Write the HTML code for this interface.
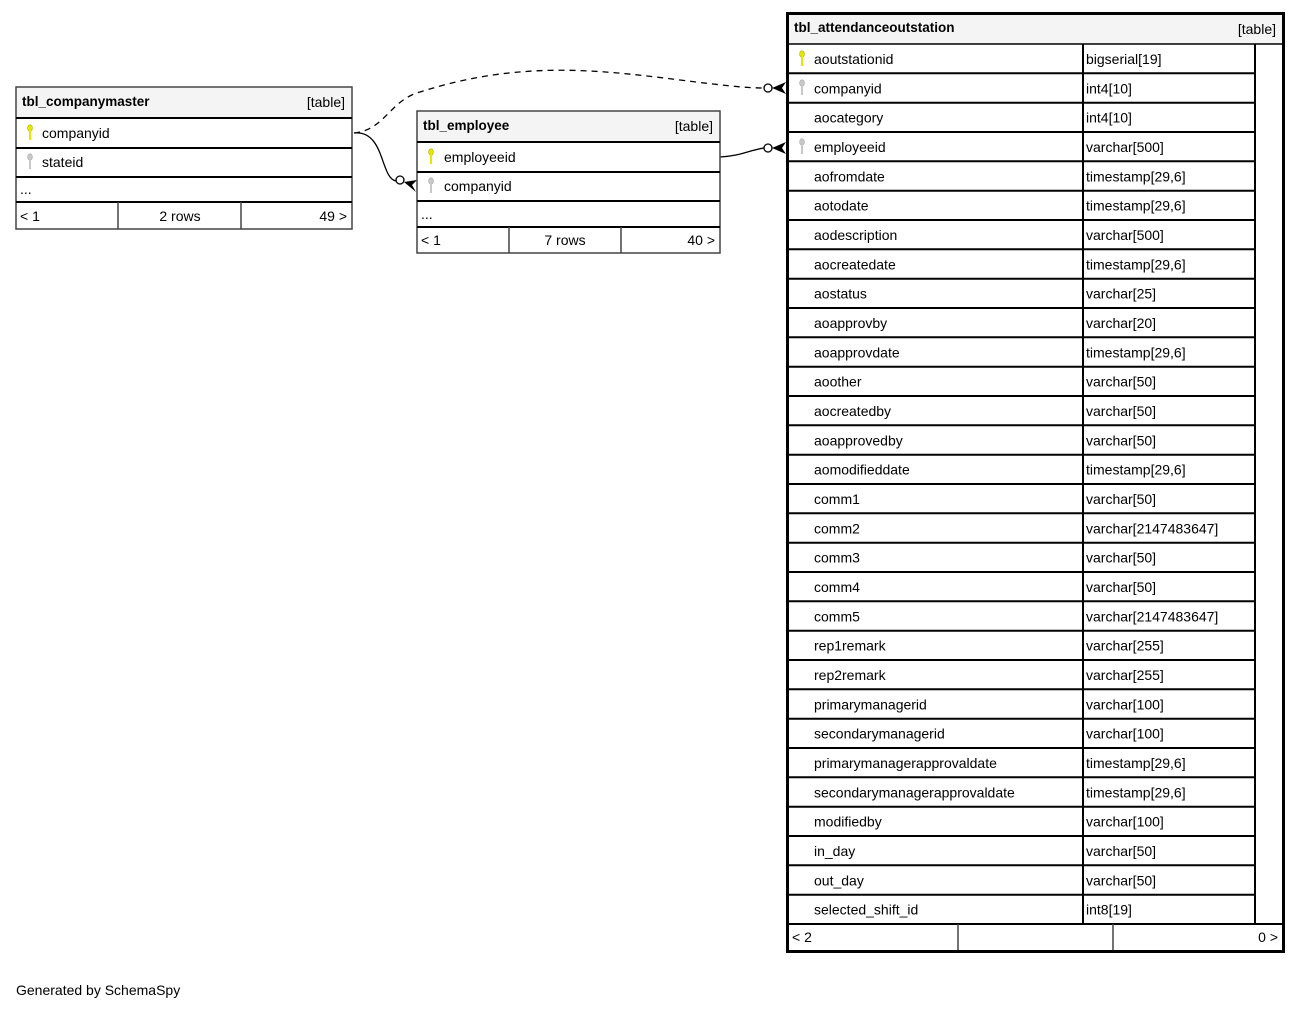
<!DOCTYPE html>
<html><head><meta charset="utf-8"><style>
html,body{margin:0;padding:0;background:#fff;width:1302px;height:1010px;overflow:hidden}
svg{display:block}
text{font-family:"Liberation Sans",Arial,sans-serif;font-size:14px;fill:#000}
.b{font-weight:bold;font-size:13.5px}
</style></head><body>
<svg width="1302" height="1010" viewBox="0 0 1302 1010" xmlns="http://www.w3.org/2000/svg">
<defs>
<g id="kp"><ellipse cx="0" cy="-4" rx="2.4" ry="3.2" fill="#e6e600" stroke="#b0b000" stroke-width="0.6"/><rect x="-1" y="-2" width="2" height="10" fill="#e6e600"/></g>
<g id="kf"><ellipse cx="0" cy="-4" rx="2.4" ry="3.2" fill="#c8c8c8" stroke="#a8a8a8" stroke-width="0.6"/><rect x="-1" y="-2" width="2" height="10" fill="#c8c8c8"/></g>
</defs>

<!-- connectors -->
<path d="M354,133 C385,130 390,100 420,92 C520,60 600,70 680,80 C720,85 745,88 764,88" fill="none" stroke="#000" stroke-width="1.3" stroke-dasharray="6,5"/>
<circle cx="768" cy="88" r="4" fill="#fff" stroke="#000" stroke-width="1.3"/>
<path d="M772,88 L786,82 L782,88 L786,94 Z" fill="#000"/>
<path d="M354,133 C385,130 380,178 396,181" fill="none" stroke="#000" stroke-width="1.3"/>
<circle cx="400" cy="180" r="4" fill="#fff" stroke="#000" stroke-width="1.3"/>
<path d="M404,182 L417,180 L412,185 L416,192 Z" fill="#000"/>
<path d="M720,157 C740,156 750,150 764,148" fill="none" stroke="#000" stroke-width="1.3"/>
<circle cx="768" cy="148" r="4" fill="#fff" stroke="#000" stroke-width="1.3"/>
<path d="M772,148 L786,142 L782,148 L786,154 Z" fill="#000"/>

<!-- tbl_companymaster -->
<rect x="16" y="87" width="336" height="142" fill="#fff" stroke="#444" stroke-width="1.5"/>
<rect x="17" y="88" width="334" height="30" fill="#f4f4f4"/>
<g stroke="#000" stroke-width="2">
<line x1="16" y1="118" x2="352" y2="118"/><line x1="16" y1="148" x2="352" y2="148"/>
<line x1="16" y1="177" x2="352" y2="177"/><line x1="16" y1="202" x2="352" y2="202"/>
</g>
<g stroke="#444" stroke-width="1.5"><line x1="118" y1="202" x2="118" y2="229"/><line x1="241" y1="202" x2="241" y2="229"/></g>
<text x="22" y="106" class="b">tbl_companymaster</text>
<text x="345" y="107" text-anchor="end">[table]</text>
<use href="#kp" x="30" y="132"/><text x="42" y="138">companyid</text>
<use href="#kf" x="30" y="161"/><text x="42" y="167">stateid</text>
<text x="20" y="194">...</text>
<text x="20" y="221">&lt; 1</text><text x="180" y="221" text-anchor="middle">2 rows</text><text x="347" y="221" text-anchor="end">49 &gt;</text>

<!-- tbl_employee -->
<rect x="417" y="111" width="303" height="142" fill="#fff" stroke="#444" stroke-width="1.5"/>
<rect x="418" y="112" width="301" height="30" fill="#f4f4f4"/>
<g stroke="#000" stroke-width="2">
<line x1="417" y1="142" x2="720" y2="142"/><line x1="417" y1="172" x2="720" y2="172"/>
<line x1="417" y1="201" x2="720" y2="201"/><line x1="417" y1="227" x2="720" y2="227"/>
</g>
<g stroke="#444" stroke-width="1.5"><line x1="509" y1="227" x2="509" y2="253"/><line x1="621" y1="227" x2="621" y2="253"/></g>
<text x="423" y="130" class="b">tbl_employee</text>
<text x="713" y="131" text-anchor="end">[table]</text>
<use href="#kp" x="431" y="156"/><text x="444" y="162">employeeid</text>
<use href="#kf" x="431" y="185"/><text x="444" y="191">companyid</text>
<text x="421" y="219">...</text>
<text x="421" y="245">&lt; 1</text><text x="565" y="245" text-anchor="middle">7 rows</text><text x="715" y="245" text-anchor="end">40 &gt;</text>

<!-- tbl_attendanceoutstation -->
<rect x="787.5" y="13.5" width="496" height="938" fill="#fff" stroke="#000" stroke-width="3"/>
<rect x="789" y="15" width="493" height="29" fill="#f4f4f4"/>
<line x1="786" y1="44" x2="1285" y2="44" stroke="#000" stroke-width="1.5"/>
<g stroke="#000" stroke-width="2">
<line x1="1083" y1="44" x2="1083" y2="924"/><line x1="1255" y1="44" x2="1255" y2="924"/>
<line x1="788" y1="73.3" x2="1255" y2="73.3"/><line x1="788" y1="102.7" x2="1255" y2="102.7"/>
<line x1="788" y1="132" x2="1255" y2="132"/><line x1="788" y1="161.3" x2="1255" y2="161.3"/>
<line x1="788" y1="190.7" x2="1255" y2="190.7"/><line x1="788" y1="220" x2="1255" y2="220"/>
<line x1="788" y1="249.3" x2="1255" y2="249.3"/><line x1="788" y1="278.7" x2="1255" y2="278.7"/>
<line x1="788" y1="308" x2="1255" y2="308"/><line x1="788" y1="337.3" x2="1255" y2="337.3"/>
<line x1="788" y1="366.7" x2="1255" y2="366.7"/><line x1="788" y1="396" x2="1255" y2="396"/>
<line x1="788" y1="425.3" x2="1255" y2="425.3"/><line x1="788" y1="454.7" x2="1255" y2="454.7"/>
<line x1="788" y1="484" x2="1255" y2="484"/><line x1="788" y1="513.3" x2="1255" y2="513.3"/>
<line x1="788" y1="542.7" x2="1255" y2="542.7"/><line x1="788" y1="572" x2="1255" y2="572"/>
<line x1="788" y1="601.3" x2="1255" y2="601.3"/><line x1="788" y1="630.7" x2="1255" y2="630.7"/>
<line x1="788" y1="660" x2="1255" y2="660"/><line x1="788" y1="689.3" x2="1255" y2="689.3"/>
<line x1="788" y1="718.7" x2="1255" y2="718.7"/><line x1="788" y1="748" x2="1255" y2="748"/>
<line x1="788" y1="777.3" x2="1255" y2="777.3"/><line x1="788" y1="806.7" x2="1255" y2="806.7"/>
<line x1="788" y1="836" x2="1255" y2="836"/><line x1="788" y1="865.3" x2="1255" y2="865.3"/>
<line x1="788" y1="894.7" x2="1255" y2="894.7"/>
<line x1="788" y1="924" x2="1283" y2="924"/>
</g>
<g stroke="#444" stroke-width="1.5"><line x1="958" y1="924" x2="958" y2="950"/><line x1="1113" y1="924" x2="1113" y2="950"/></g>
<text x="794" y="32" class="b">tbl_attendanceoutstation</text>
<text x="1276" y="34" text-anchor="end">[table]</text>
<use href="#kp" x="802" y="58"/>
<use href="#kf" x="802" y="87"/>
<use href="#kf" x="802" y="146"/>
<g>
<text x="814" y="64">aoutstationid</text><text x="1086" y="64">bigserial[19]</text>
<text x="814" y="93.3">companyid</text><text x="1086" y="93.3">int4[10]</text>
<text x="814" y="122.7">aocategory</text><text x="1086" y="122.7">int4[10]</text>
<text x="814" y="152">employeeid</text><text x="1086" y="152">varchar[500]</text>
<text x="814" y="181.3">aofromdate</text><text x="1086" y="181.3">timestamp[29,6]</text>
<text x="814" y="210.7">aotodate</text><text x="1086" y="210.7">timestamp[29,6]</text>
<text x="814" y="240">aodescription</text><text x="1086" y="240">varchar[500]</text>
<text x="814" y="269.3">aocreatedate</text><text x="1086" y="269.3">timestamp[29,6]</text>
<text x="814" y="298.7">aostatus</text><text x="1086" y="298.7">varchar[25]</text>
<text x="814" y="328">aoapprovby</text><text x="1086" y="328">varchar[20]</text>
<text x="814" y="357.3">aoapprovdate</text><text x="1086" y="357.3">timestamp[29,6]</text>
<text x="814" y="386.7">aoother</text><text x="1086" y="386.7">varchar[50]</text>
<text x="814" y="416">aocreatedby</text><text x="1086" y="416">varchar[50]</text>
<text x="814" y="445.3">aoapprovedby</text><text x="1086" y="445.3">varchar[50]</text>
<text x="814" y="474.7">aomodifieddate</text><text x="1086" y="474.7">timestamp[29,6]</text>
<text x="814" y="504">comm1</text><text x="1086" y="504">varchar[50]</text>
<text x="814" y="533.3">comm2</text><text x="1086" y="533.3">varchar[2147483647]</text>
<text x="814" y="562.7">comm3</text><text x="1086" y="562.7">varchar[50]</text>
<text x="814" y="592">comm4</text><text x="1086" y="592">varchar[50]</text>
<text x="814" y="621.3">comm5</text><text x="1086" y="621.3">varchar[2147483647]</text>
<text x="814" y="650.7">rep1remark</text><text x="1086" y="650.7">varchar[255]</text>
<text x="814" y="680">rep2remark</text><text x="1086" y="680">varchar[255]</text>
<text x="814" y="709.3">primarymanagerid</text><text x="1086" y="709.3">varchar[100]</text>
<text x="814" y="738.7">secondarymanagerid</text><text x="1086" y="738.7">varchar[100]</text>
<text x="814" y="768">primarymanagerapprovaldate</text><text x="1086" y="768">timestamp[29,6]</text>
<text x="814" y="797.3">secondarymanagerapprovaldate</text><text x="1086" y="797.3">timestamp[29,6]</text>
<text x="814" y="826.7">modifiedby</text><text x="1086" y="826.7">varchar[100]</text>
<text x="814" y="856">in_day</text><text x="1086" y="856">varchar[50]</text>
<text x="814" y="885.3">out_day</text><text x="1086" y="885.3">varchar[50]</text>
<text x="814" y="914.7">selected_shift_id</text><text x="1086" y="914.7">int8[19]</text>
</g>
<text x="792" y="942">&lt; 2</text><text x="1278" y="942" text-anchor="end">0 &gt;</text>

<text x="16" y="995">Generated by SchemaSpy</text>
</svg>
</body></html>
